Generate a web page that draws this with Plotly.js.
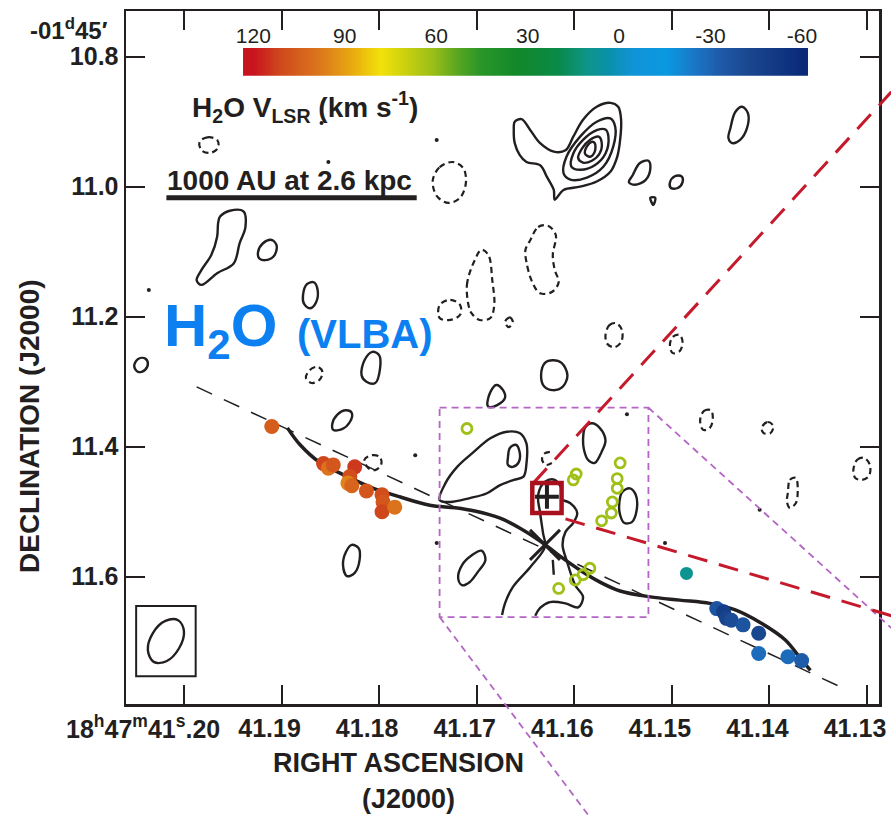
<!DOCTYPE html>
<html><head><meta charset="utf-8">
<script src="https://cdn.plot.ly/plotly-3.0.1.min.js"></script>
<style>html,body{margin:0;padding:0;background:#fff}</style>
</head><body><div id="chart" style="width:891px;height:816px"></div>
<script>
// ---------- axes ----------
const XR = [41.20594, 41.12877];   // RA seconds (reversed)
const YR = [11.7958, 10.7297];     // Dec arcsec (reversed)
const raTicks = [41.20, 41.19, 41.18, 41.17, 41.16, 41.15, 41.14, 41.13];
const raFirstLabel = '18<sup>h</sup>47<sup>m</sup>41<sup>s</sup>.20';
const raTickText = ['', '41.19', '41.18', '41.17', '41.16', '41.15', '41.14', '41.13'];
const decTicks = [10.8, 11.0, 11.2, 11.4, 11.6];
const decTickText = ['10.8', '11.0', '11.2', '11.4', '11.6'];
const velTicks = [120, 90, 60, 30, 0, -30, -60];

// ---------- maser spots (RA s, Dec arcsec, Vlsr km/s) ----------
const redRA  = [41.1910, 41.1857, 41.1852, 41.1847, 41.1825, 41.1830, 41.1832, 41.1828, 41.1813, 41.1797, 41.1796, 41.1797, 41.1784];
const redDec = [11.369, 11.426, 11.433, 11.428, 11.431, 11.446, 11.456, 11.460, 11.468, 11.474, 11.485, 11.500, 11.493];
const redVel = [106, 112, 100, 108, 114, 110, 96, 104, 108, 110, 108, 112, 100];
const greenRA  = [41.1710, 41.1553, 41.1556, 41.1556, 41.1561, 41.1562, 41.1572, 41.1598, 41.1601, 41.1584, 41.1591, 41.1599, 41.1616];
const greenDec = [11.372, 11.425, 11.449, 11.464, 11.485, 11.502, 11.514, 11.442, 11.451, 11.587, 11.597, 11.605, 11.618];
const greenVel = [62, 62, 62, 62, 62, 62, 62, 62, 62, 62, 62, 62, 62];
const tealRA = [41.1485], tealDec = [11.595], tealVel = [9];
const blueRA  = [41.1454, 41.1447, 41.1444, 41.1439, 41.1427, 41.1411, 41.1411, 41.1381, 41.1367];
const blueDec = [11.649, 11.654, 11.664, 11.667, 11.674, 11.687, 11.718, 11.723, 11.729];
const blueVel = [-36, -48, -44, -40, -36, -42, -28, -28, -33];

// ---------- jet curve and lines ----------
const jetRA  = [41.1894, 41.1881, 41.1861, 41.1835, 41.1809, 41.1779, 41.1748, 41.1722, 41.1702, 41.1676, 41.1656, 41.1635, 41.1615, 41.1594, 41.1574, 41.1553, 41.1522, 41.1492, 41.1461, 41.1435, 41.1410, 41.1384, 41.1369, 41.1358];
const jetDec = [11.371, 11.397, 11.424, 11.444, 11.462, 11.477, 11.490, 11.494, 11.499, 11.510, 11.525, 11.545, 11.568, 11.590, 11.608, 11.622, 11.631, 11.636, 11.641, 11.651, 11.670, 11.697, 11.724, 11.744];
const axisRA = [41.1987, 41.1325], axisDec = [11.308, 11.771];
const redLine1 = [[41.1642, 11.456], [41.1275, 10.854]];
const redLine2 = [[41.1609, 11.511], [41.1275, 11.660]];
const redBox = [[41.1643, 11.456], [41.1613, 11.502]];
const zoomBox = [[41.1738, 11.340], [41.1524, 11.662]];
const zoomLine1 = [[41.1524, 11.340], [41.1275, 11.679]];
const zoomLine2 = [[41.1738, 11.662], [41.1585, 11.968]];
const beamBox = [[41.2049, 11.645], [41.1988, 11.753]];
const starPos = [[41.1628, 11.477]];
const crossPos = [[41.1630, 11.551]];
const scaleAU = 1000, distPc = 2600, decDeg = 1.753, scaleStartRA = 41.2018, scaleDec = 11.017;

// ---------- continuum contours [RA, Dec] ----------
const ctPeak1 = [[41.1661,10.900],[41.1654,10.896],[41.1645,10.913],[41.1635,10.933],[41.1621,10.946],[41.1609,10.944],[41.1601,10.923],[41.1591,10.897],[41.1577,10.877],[41.1563,10.871],[41.1555,10.877],[41.1552,10.897],[41.1553,10.928],[41.1556,10.954],[41.1563,10.977],[41.1577,10.992],[41.1594,11.000],[41.1611,11.005],[41.1620,11.020],[41.1621,11.005],[41.1628,10.985],[41.1635,10.967],[41.1649,10.962],[41.1656,10.951],[41.1661,10.933],[41.1662,10.913]];
const ctPeak2 = [[41.1611,10.979],[41.1608,10.954],[41.1594,10.923],[41.1577,10.900],[41.1563,10.895],[41.1558,10.908],[41.1560,10.938],[41.1570,10.969],[41.1587,10.986],[41.1604,10.989]];
const ctPeak3 = [[41.1603,10.969],[41.1601,10.949],[41.1591,10.928],[41.1577,10.913],[41.1568,10.912],[41.1565,10.923],[41.1568,10.949],[41.1579,10.967],[41.1594,10.974]];
const ctPeak4 = [[41.1596,10.956],[41.1592,10.941],[41.1584,10.928],[41.1575,10.923],[41.1572,10.931],[41.1574,10.949],[41.1582,10.960],[41.1591,10.963]];
const ctPeak5 = [[41.1589,10.949],[41.1587,10.938],[41.1582,10.931],[41.1579,10.933],[41.1579,10.946],[41.1584,10.954]];
const ctS1 = [[41.1540,10.982],[41.1533,10.964],[41.1524,10.960],[41.1522,10.971],[41.1527,10.990],[41.1538,10.997],[41.1544,10.993]];
const ctS2 = [[41.1502,10.994],[41.1497,10.984],[41.1490,10.984],[41.1489,10.993],[41.1494,11.002],[41.1501,11.002]];
const ctS3 = [[41.1522,11.017],[41.1517,11.017],[41.1519,11.028]];
const ctS4 = [[41.1440,10.910],[41.1435,10.885],[41.1428,10.877],[41.1422,10.887],[41.1423,10.910],[41.1430,10.928],[41.1438,10.933],[41.1442,10.925]];
const ctL1 = [[41.1963,11.046],[41.1953,11.037],[41.1939,11.038],[41.1937,11.062],[41.1943,11.087],[41.1949,11.118],[41.1966,11.133],[41.1982,11.151],[41.1987,11.144],[41.1982,11.128],[41.1972,11.105],[41.1966,11.077],[41.1965,11.056]];
const ctL2 = [[41.1924,11.100],[41.1919,11.087],[41.1910,11.082],[41.1905,11.091],[41.1908,11.107],[41.1917,11.113],[41.1923,11.110]];
const ctL3 = [[41.1878,11.167],[41.1874,11.150],[41.1867,11.147],[41.1863,11.159],[41.1865,11.179],[41.1871,11.187],[41.1877,11.180]];
const ctL4 = [[41.2051,11.276],[41.2047,11.265],[41.2040,11.264],[41.2037,11.271],[41.2040,11.282],[41.2047,11.285]];
const ctL6 = [[41.1818,11.290],[41.1815,11.267],[41.1807,11.254],[41.1800,11.259],[41.1799,11.279],[41.1804,11.302],[41.1813,11.300]];
const ctL7 = [[41.1848,11.365],[41.1843,11.351],[41.1834,11.344],[41.1828,11.348],[41.1830,11.362],[41.1838,11.373],[41.1847,11.374]];
const ctL9 = [[41.1837,11.582],[41.1834,11.562],[41.1828,11.551],[41.1821,11.556],[41.1820,11.574],[41.1825,11.594],[41.1833,11.599]];
const ctBeam = [[41.2006,11.667],[41.2000,11.684],[41.2005,11.710],[41.2018,11.730],[41.2031,11.731],[41.2037,11.713],[41.2032,11.687],[41.2019,11.668]];
const ctM1 = [[41.1738,11.482],[41.1732,11.456],[41.1720,11.431],[41.1703,11.408],[41.1686,11.387],[41.1669,11.377],[41.1656,11.379],[41.1649,11.395],[41.1649,11.426],[41.1652,11.446],[41.1662,11.451],[41.1676,11.459],[41.1690,11.472],[41.1707,11.479],[41.1727,11.485]];
const ctM2 = [[41.1668,11.417],[41.1666,11.402],[41.1660,11.397],[41.1656,11.408],[41.1657,11.424],[41.1663,11.431],[41.1668,11.428]];
const ctM3 = [[41.1591,11.390],[41.1589,11.371],[41.1582,11.364],[41.1574,11.371],[41.1568,11.390],[41.1572,11.408],[41.1579,11.425],[41.1586,11.420],[41.1590,11.405]];
const ctM4 = [[41.1554,11.490],[41.1551,11.470],[41.1543,11.464],[41.1537,11.474],[41.1536,11.497],[41.1541,11.516],[41.1549,11.517],[41.1553,11.505]];
const ctM5 = [[41.1719,11.602],[41.1715,11.582],[41.1705,11.567],[41.1695,11.560],[41.1691,11.574],[41.1699,11.593],[41.1707,11.608],[41.1715,11.613]];
const ctR3 = [[41.1634,11.290],[41.1630,11.271],[41.1622,11.267],[41.1613,11.271],[41.1607,11.290],[41.1612,11.308],[41.1622,11.313],[41.1631,11.307]];
const ctR4 = [[41.1689,11.336],[41.1686,11.316],[41.1680,11.305],[41.1673,11.313],[41.1671,11.325],[41.1679,11.336],[41.1687,11.339]];
const ctM6 = [[41.1674,11.659],[41.1671,11.641],[41.1663,11.616],[41.1645,11.585],[41.1630,11.554],[41.1632,11.533],[41.1635,11.502],[41.1637,11.474],[41.1630,11.454],[41.1620,11.451],[41.1613,11.464]];
const ctM7 = [[41.1613,11.482],[41.1604,11.487],[41.1597,11.502],[41.1601,11.517],[41.1609,11.531],[41.1612,11.551],[41.1608,11.574],[41.1599,11.613],[41.1591,11.631],[41.1596,11.647],[41.1609,11.641],[41.1625,11.639],[41.1635,11.648],[41.1640,11.660]];
const ctM9 = [[41.1622,11.574],[41.1621,11.597]];
// negative (dashed) contours
const ctD1 = [[41.1745,10.990],[41.1738,10.970],[41.1725,10.962],[41.1714,10.971],[41.1711,10.993],[41.1717,11.017],[41.1729,11.025],[41.1741,11.014]];
const ctD2 = [[41.1707,11.190],[41.1710,11.151],[41.1702,11.113],[41.1695,11.097],[41.1688,11.105],[41.1684,11.144],[41.1682,11.182],[41.1686,11.202],[41.1697,11.205],[41.1704,11.197]];
const ctD3 = [[41.1738,11.182],[41.1727,11.174],[41.1717,11.182],[41.1717,11.197],[41.1727,11.205],[41.1738,11.202]];
const ctD4 = [[41.1645,11.082],[41.1637,11.062],[41.1627,11.060],[41.1619,11.074],[41.1622,11.105],[41.1620,11.128],[41.1616,11.147],[41.1623,11.162],[41.1635,11.164],[41.1643,11.147],[41.1649,11.116],[41.1650,11.097]];
const ctD5 = [[41.1671,11.208],[41.1666,11.201],[41.1663,11.208],[41.1667,11.216]];
const ctD6 = [[41.1984,10.931],[41.1976,10.924],[41.1966,10.928],[41.1965,10.940],[41.1973,10.948],[41.1982,10.944]];
const ctL5 = [[41.1875,11.294],[41.1871,11.282],[41.1863,11.277],[41.1858,11.285],[41.1861,11.297],[41.1869,11.302]];
const ctL8 = [[41.1815,11.420],[41.1807,11.413],[41.1799,11.416],[41.1798,11.428],[41.1804,11.436],[41.1811,11.433]];
const ctR1 = [[41.1568,11.228],[41.1564,11.213],[41.1557,11.210],[41.1551,11.221],[41.1552,11.239],[41.1559,11.247],[41.1566,11.242]];
const ctR2 = [[41.1502,11.244],[41.1499,11.231],[41.1492,11.228],[41.1489,11.239],[41.1492,11.253],[41.1499,11.256]];
const ctR5 = [[41.1471,11.359],[41.1467,11.345],[41.1460,11.344],[41.1458,11.356],[41.1461,11.371],[41.1468,11.374]];
const ctR6 = [[41.1408,11.371],[41.1402,11.362],[41.1396,11.368],[41.1399,11.379],[41.1406,11.379]];
const ctR7 = [[41.1314,11.436],[41.1310,11.420],[41.1303,11.417],[41.1297,11.428],[41.1298,11.445],[41.1305,11.451],[41.1312,11.448]];
const ctR8 = [[41.1381,11.470],[41.1379,11.451],[41.1373,11.448],[41.1371,11.467],[41.1373,11.487],[41.1379,11.494],[41.1382,11.485]];
const ctM8 = [[41.1625,11.408],[41.1631,11.411],[41.1633,11.420],[41.1629,11.428],[41.1623,11.425]];
const dotRA  = [41.1859, 41.1852, 41.1741, 41.1763, 41.1741, 41.1546, 41.1410, 41.1507, 41.2036];
const dotDec = [10.902, 10.962, 10.928, 11.413, 11.548, 11.350, 11.497, 11.548, 11.159];

// ---------- build ----------
const INK = '#231f20';
const FONT = 'Liberation Sans, Arial, Helvetica, sans-serif';
const velScale = [[0,'#0a2a78'],[0.101,'#1a4890'],[0.149,'#1e5aa8'],[0.198,'#1a78c8'],[0.246,'#0a98e0'],[0.307,'#1094d8'],[0.356,'#0a90a8'],[0.392,'#0e958a'],[0.447,'#0a8a48'],[0.52,'#12882a'],[0.587,'#2a9628'],[0.629,'#5aa620'],[0.672,'#98be18'],[0.721,'#c8d010'],[0.769,'#f2e20a'],[0.824,'#e8a810'],[0.878,'#dc7a1c'],[0.951,'#d04a1c'],[1,'#c8141e']];

function join(list, closed) {
  const x = [], y = [];
  list.forEach(c => {
    const pts = closed ? c.concat([c[0]]) : c;
    pts.forEach(p => { x.push(p[0]); y.push(p[1]); });
    x.push(null); y.push(null);
  });
  return {x, y};
}
const solidClosed = join([ctPeak1, ctPeak2, ctPeak3, ctPeak4, ctPeak5, ctS1, ctS2, ctS3, ctS4, ctL1, ctL2, ctL3, ctL4, ctL6, ctL7, ctL9, ctBeam, ctM1, ctM2, ctM3, ctM4, ctM5, ctR3, ctR4], true);
const solidOpen = join([ctM6, ctM7, ctM9], false);
const dashClosed = join([ctD1, ctD2, ctD3, ctD4, ctD5, ctD6, ctL5, ctL8, ctR1, ctR2, ctR5, ctR6, ctR7, ctR8], true);
const dashOpen = join([ctM8], false);

function pxX(ra) { return (XR[0] - ra) / (XR[0] - XR[1]); }
function pxY(dec) { return (YR[0] - dec) / (YR[0] - YR[1]); }
function paperLine(seg, color, width, dash) {
  return {type: 'line', xref: 'paper', yref: 'paper', x0: pxX(seg[0][0]), y0: pxY(seg[0][1]), x1: pxX(seg[1][0]), y1: pxY(seg[1][1]), line: {color, width, dash}};
}
const scaleLenRA = scaleAU / distPc / 15 / Math.cos(decDeg * Math.PI / 180);

const line = (w, dash) => ({color: INK, width: w, dash: dash || 'solid', shape: 'spline', smoothing: 1});
const mk = (ra, dec, vel, size, open) => ({
  type: 'scatter', mode: 'markers', x: ra, y: dec, hoverinfo: 'skip',
  marker: {size, color: vel, colorscale: velScale, cmin: -60, cmax: 120, symbol: open ? 'circle-open' : 'circle', line: {width: open ? 2.8 : 0}, opacity: 1}
});

const traces = [
  {type: 'scatter', mode: 'lines', x: solidClosed.x, y: solidClosed.y, line: line(2.4), hoverinfo: 'skip', connectgaps: false},
  {type: 'scatter', mode: 'lines', x: solidOpen.x, y: solidOpen.y, line: line(2.4), hoverinfo: 'skip'},
  {type: 'scatter', mode: 'lines', x: dashClosed.x, y: dashClosed.y, line: line(2.2, '6px,4px'), hoverinfo: 'skip'},
  {type: 'scatter', mode: 'lines', x: dashOpen.x, y: dashOpen.y, line: line(2.2, '6px,4px'), hoverinfo: 'skip'},
  {type: 'scatter', mode: 'markers', x: dotRA, y: dotDec, marker: {size: 4, color: INK}, hoverinfo: 'skip'},
  {type: 'scatter', mode: 'lines', x: axisRA, y: axisDec, line: {color: INK, width: 1.5, dash: '17px,13px'}, hoverinfo: 'skip'},
  {type: 'scatter', mode: 'lines', x: jetRA, y: jetDec, line: {color: INK, width: 3.5, shape: 'spline'}, hoverinfo: 'skip'},
  {type: 'scatter', mode: 'markers', x: starPos.map(p => p[0]), y: starPos.map(p => p[1]), marker: {symbol: 'cross-thin-open', size: 17, color: INK, line: {width: 4, color: INK}}, hoverinfo: 'skip'},
  {type: 'scatter', mode: 'markers', x: crossPos.map(p => p[0]), y: crossPos.map(p => p[1]), marker: {symbol: 'x-thin-open', size: 30, color: INK, line: {width: 3, color: INK}}, hoverinfo: 'skip'},
  mk(redRA, redDec, redVel, 15, false),
  mk(greenRA, greenDec, greenVel, 10, true),
  mk(tealRA, tealDec, tealVel, 13, false),
  mk(blueRA, blueDec, blueVel, 15, false),
  {type: 'heatmap', xaxis: 'x2', yaxis: 'y2', x: velTicks.slice().reverse(), y: [0, 1],
   z: [velTicks.slice().reverse(), velTicks.slice().reverse()], zsmooth: 'best', colorscale: velScale,
   zmin: -60, zmax: 120, showscale: false, hoverinfo: 'skip'}
];

const tf = {family: FONT, size: 25, color: INK, weight: 'bold'};
const layout = {
  width: 891, height: 816, margin: {l: 126, r: 12, t: 11, b: 112},
  paper_bgcolor: '#fff', plot_bgcolor: '#fff', showlegend: false,
  font: {family: FONT, color: INK},
  xaxis: {range: XR, tickmode: 'array', tickvals: raTicks, ticktext: raTickText, tickangle: 0, ticks: 'inside', ticklen: 19, tickwidth: 2, tickcolor: INK,
          showline: true, linewidth: 2.5, linecolor: INK, mirror: 'ticks', showgrid: false, zeroline: false, tickfont: tf, ticklabelstandoff: 0, ticklabelshift: 12},
  yaxis: {range: YR, tickmode: 'array', tickvals: decTicks, ticktext: decTickText, ticks: 'inside', ticklen: 19, tickwidth: 2, tickcolor: INK,
          showline: true, linewidth: 2.5, linecolor: INK, mirror: 'ticks', showgrid: false, zeroline: false, tickfont: tf, ticklabelstandoff: 0},
  xaxis2: {domain: [0.1554, 0.9057], anchor: 'y2', range: [123.4, -62], side: 'top', tickmode: 'array', tickvals: velTicks, ticktext: velTicks.map(String),
           tickangle: 0, ticks: '', showline: false, showgrid: false, zeroline: false, tickfont: {family: FONT, size: 21, color: INK}, ticklabelstandoff: 0},
  yaxis2: {domain: [0.9066, 0.9466], anchor: 'x2', range: [-0.5, 1.5], visible: false},
  shapes: [
    {type: 'line', xref: 'x', yref: 'y', x0: scaleStartRA, x1: scaleStartRA - scaleLenRA, y0: scaleDec, y1: scaleDec, line: {color: INK, width: 5}},
    {type: 'rect', xref: 'x', yref: 'y', x0: beamBox[0][0], y0: beamBox[0][1], x1: beamBox[1][0], y1: beamBox[1][1], line: {color: INK, width: 2}},
    {type: 'rect', xref: 'x', yref: 'y', x0: zoomBox[0][0], y0: zoomBox[0][1], x1: zoomBox[1][0], y1: zoomBox[1][1], line: {color: '#b466c4', width: 1.8, dash: '7px,5px'}},
    paperLine(zoomLine1, '#b466c4', 1.8, '7px,5px'),
    paperLine(zoomLine2, '#b466c4', 1.8, '7px,5px'),
    paperLine(redLine1, '#c41a2c', 3, '20px,12px'),
    paperLine(redLine2, '#c41a2c', 3, '20px,12px'),
    {type: 'rect', xref: 'x', yref: 'y', x0: redBox[0][0], y0: redBox[0][1], x1: redBox[1][0], y1: redBox[1][1], line: {color: '#a8101e', width: 4.5}}
  ],
  annotations: [
    {xref: 'x', yref: 'paper', x: raTicks[0], xshift: 38, y: (704 - 727) / 693, xanchor: 'right', yanchor: 'middle', showarrow: false, text: raFirstLabel, font: {family: FONT, size: 25, color: INK, weight: 'bold'}},
    {xref: 'paper', yref: 'paper', x: -0.0212, y: 0.974, xanchor: 'right', yanchor: 'middle', showarrow: false, text: '-01<sup>d</sup>45\u2032', font: {family: FONT, size: 24, color: INK, weight: 'bold'}},
    {xref: 'paper', yref: 'paper', x: 0.2377, y: 0.8615, xanchor: 'center', yanchor: 'middle', showarrow: false, text: 'H<sub>2</sub>O V<sub>LSR</sub> (km s<sup>-1</sup>)', font: {family: FONT, size: 28, color: INK, weight: 'bold'}},
    {xref: 'paper', yref: 'paper', x: 0.2165, y: 0.7547, xanchor: 'center', yanchor: 'middle', showarrow: false, text: '1000 AU at 2.6 kpc', font: {family: FONT, size: 28, color: INK, weight: 'bold'}},
    {xref: 'paper', yref: 'paper', x: 0.0478, y: 0.540, xanchor: 'left', yanchor: 'middle', showarrow: false, text: 'H<sub>2</sub>O', font: {family: FONT, size: 60, color: '#0c80f0', weight: 'bold'}},
    {xref: 'paper', yref: 'paper', x: 0.2244, y: 0.5346, xanchor: 'left', yanchor: 'middle', showarrow: false, text: '(VLBA)', font: {family: FONT, size: 40, color: '#0c80f0', weight: 'bold'}},
    {xref: 'paper', yref: 'paper', x: (398 - 126) / 753, y: (704 - 763) / 693, xanchor: 'center', yanchor: 'middle', showarrow: false, text: 'RIGHT ASCENSION', font: {family: FONT, size: 27, color: INK, weight: 'bold'}},
    {xref: 'paper', yref: 'paper', x: (408 - 126) / 753, y: (704 - 799) / 693, xanchor: 'center', yanchor: 'middle', showarrow: false, text: '(J2000)', font: {family: FONT, size: 27, color: INK, weight: 'bold'}},
    {xref: 'paper', yref: 'paper', x: (29 - 126) / 753, y: (704 - 426) / 693, xanchor: 'center', yanchor: 'middle', textangle: -90, showarrow: false, text: 'DECLINATION (J2000)', font: {family: FONT, size: 28, color: INK, weight: 'bold'}}
  ]
};
Plotly.newPlot('chart', traces, layout, {displayModeBar: false, staticPlot: true});
</script></body></html>
